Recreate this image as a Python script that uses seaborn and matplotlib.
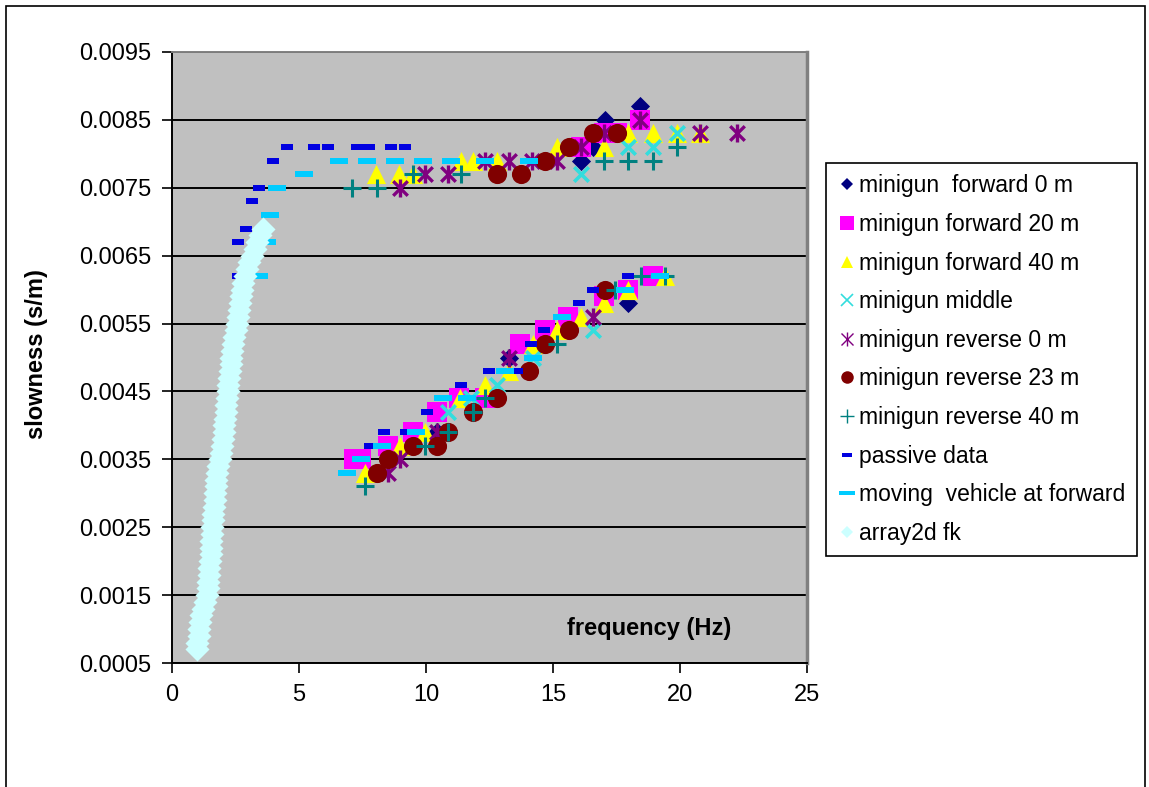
import numpy as np
import pandas as pd
import matplotlib
matplotlib.use("Agg")
import matplotlib.pyplot as plt
import seaborn as sns
from matplotlib.lines import Line2D
from matplotlib.legend_handler import HandlerTuple
from matplotlib.patches import Rectangle

# ---------------- data ----------------
fwd0_x = [16.09, 16.59, 17.05, 18.43, 17.97, 13.27, 10.42]
fwd0_y = [0.0079, 0.0081, 0.0085, 0.0087, 0.0058, 0.0050, 0.0039]

fwd20_x = [18.43, 16.09, 17.0, 17.5, 7.15, 7.45, 8.52, 9.5, 10.42, 11.3, 12.32, 13.7, 14.69, 15.6, 17.02, 17.97, 18.95]
fwd20_y = [0.0085, 0.0081, 0.0083, 0.0083, 0.0035, 0.0035, 0.0037, 0.0039, 0.0042, 0.0044, 0.0044, 0.0052, 0.0054, 0.0056, 0.0059, 0.0060, 0.0062]

fwd40_x = [8.03, 8.95, 9.47, 11.37, 11.84, 12.78, 15.15, 17.0, 17.97, 18.95, 19.87, 20.79,
           7.6, 8.98, 9.96, 11.34, 12.32, 13.27, 14.2, 15.15, 16.1, 17.02, 17.97, 19.4]
fwd40_y = [0.0077, 0.0077, 0.0077, 0.0079, 0.0079, 0.0079, 0.0081, 0.0081, 0.0083, 0.0083, 0.0083, 0.0083,
           0.0033, 0.0037, 0.0039, 0.0044, 0.0046, 0.0048, 0.0052, 0.0054, 0.0056, 0.0058, 0.0060, 0.0062]

mid_x = [16.09, 17.97, 18.95, 19.87, 10.88, 11.77, 12.78, 14.23, 16.59]
mid_y = [0.0077, 0.0081, 0.0081, 0.0083, 0.0042, 0.0044, 0.0046, 0.0050, 0.0054]

rev0_x = [8.98, 9.96, 10.88, 12.32, 13.28, 14.16, 15.15, 16.09, 17.0, 18.43, 20.79, 22.23,
          8.52, 8.98, 10.42, 13.27, 16.59]
rev0_y = [0.0075, 0.0077, 0.0077, 0.0079, 0.0079, 0.0079, 0.0079, 0.0081, 0.0083, 0.0085, 0.0083, 0.0083,
          0.0033, 0.0035, 0.0039, 0.0050, 0.0056]

rev23_x = [12.78, 13.73, 14.69, 15.64, 16.59, 17.51,
           8.06, 8.52, 9.47, 10.42, 10.88, 11.84, 12.78, 14.07, 14.69, 15.64, 17.05]
rev23_y = [0.0077, 0.0077, 0.0079, 0.0081, 0.0083, 0.0083,
           0.0033, 0.0035, 0.0037, 0.0037, 0.0039, 0.0042, 0.0044, 0.0048, 0.0052, 0.0054, 0.0060]

rev40_x = [7.07, 8.06, 9.47, 11.37, 17.0, 17.97, 18.95, 19.87,
           7.6, 9.96, 10.88, 11.84, 12.32, 15.15, 17.44, 18.45, 19.4]
rev40_y = [0.0075, 0.0075, 0.0077, 0.0077, 0.0079, 0.0079, 0.0079, 0.0081,
           0.0031, 0.0037, 0.0039, 0.0042, 0.0044, 0.0052, 0.0060, 0.0062, 0.0062]

passive_x = [4.52, 5.6, 6.14, 7.28, 7.76, 8.62, 9.17, 3.96, 3.41, 3.14, 2.91, 2.61, 2.61,
             7.8, 8.36, 9.2, 10.03, 11.37, 12.49, 13.57, 14.12, 14.66, 16.04, 16.59, 17.94]
passive_y = [0.0081, 0.0081, 0.0081, 0.0081, 0.0081, 0.0081, 0.0081, 0.0079, 0.0075, 0.0073, 0.0069, 0.0067, 0.0062,
             0.0037, 0.0039, 0.0039, 0.0042, 0.0046, 0.0048, 0.0048, 0.0052, 0.0054, 0.0058, 0.0060, 0.0062]

moving_x = [6.59, 7.66, 8.79, 9.9, 10.97, 12.32, 14.07, 5.2, 4.15, 3.86, 3.75, 3.44,
            6.88, 7.43, 8.26, 9.6, 10.68, 11.6, 13.11, 14.23, 15.34, 17.83, 19.2]
moving_y = [0.0079, 0.0079, 0.0079, 0.0079, 0.0079, 0.0079, 0.0079, 0.0077, 0.0075, 0.0071, 0.0067, 0.0062,
            0.0033, 0.0035, 0.0037, 0.0039, 0.0044, 0.0044, 0.0048, 0.0050, 0.0056, 0.0060, 0.0062]

fk_x = [0.97, 1.00, 1.05, 1.08, 1.12, 1.16, 1.22, 1.30, 1.37, 1.40, 1.42, 1.44, 1.47, 1.50, 1.52, 1.53,
        1.55, 1.57, 1.59, 1.61, 1.63, 1.65, 1.68, 1.70, 1.72, 1.75, 1.78, 1.82, 1.89, 1.93, 1.97, 2.00,
        2.03, 2.06, 2.09, 2.12, 2.14, 2.16, 2.19, 2.22, 2.25, 2.28, 2.31, 2.34, 2.37, 2.41, 2.45, 2.50,
        2.57, 2.61, 2.64, 2.68, 2.71, 2.74, 2.80, 2.88, 2.96, 3.05, 3.14, 3.25, 3.36, 3.48, 3.60]
fk_y = [0.00070, 0.00080, 0.00090, 0.00100, 0.00110, 0.00120, 0.00130, 0.00140, 0.00150, 0.00160,
        0.00170, 0.00180, 0.00190, 0.00200, 0.00210, 0.00220, 0.00230, 0.00240, 0.00250, 0.00260,
        0.00270, 0.00280, 0.00290, 0.00300, 0.00310, 0.00320, 0.00330, 0.00340, 0.00350, 0.00360,
        0.00370, 0.00380, 0.00390, 0.00400, 0.00410, 0.00420, 0.00430, 0.00440, 0.00450, 0.00460,
        0.00470, 0.00480, 0.00490, 0.00500, 0.00510, 0.00520, 0.00530, 0.00540, 0.00550, 0.00560,
        0.00570, 0.00580, 0.00590, 0.00600, 0.00610, 0.00620, 0.00630, 0.00640, 0.00650, 0.00660,
        0.00670, 0.00680, 0.00690]

series_labels = ["minigun  forward 0 m", "minigun forward 20 m", "minigun forward 40 m",
                 "minigun middle", "minigun reverse 0 m", "minigun reverse 23 m",
                 "minigun reverse 40 m", "passive data", "moving  vehicle at forward", "array2d fk"]

x_ticks = [0, 5, 10, 15, 20, 25]
y_ticks = [0.0005, 0.0015, 0.0025, 0.0035, 0.0045, 0.0055, 0.0065, 0.0075, 0.0085, 0.0095]

# ---------------- styling ----------------
plt.rcParams["font.family"] = ["Liberation Sans", "DejaVu Sans"]
FONT = 17

C_FWD0 = "#000080"
C_FWD20 = "#FF00FF"
C_FWD40 = "#FFFF00"
C_MID = "#33DDDD"
C_REV0 = "#800080"
C_REV23 = "#800000"
C_REV40 = "#008080"
C_PASS = "#0000E0"
C_MOV = "#00CCFF"
C_FK = "#CCFFFF"

passive_marker = [(-1, -0.5), (1, -0.5), (1, 0.5), (-1, 0.5)]
moving_marker = [(-1, -0.32), (1, -0.32), (1, 0.32), (-1, 0.32)]

fig = plt.figure(figsize=(11.49, 7.87), dpi=100)
ax = fig.add_axes([172 / 1149, 1 - 663 / 787, 635 / 1149, 611 / 787])
ax.set_facecolor("#C0C0C0")


def df(x, y):
    return pd.DataFrame({"x": x, "y": y})


kw = dict(ax=ax, legend=False)
sns.scatterplot(data=df(fwd0_x, fwd0_y), x="x", y="y", marker="D", s=95, color=C_FWD0, linewidth=0, zorder=3, **kw)
sns.scatterplot(data=df(fwd20_x, fwd20_y), x="x", y="y", marker="s", s=200, color=C_FWD20, linewidth=0, zorder=4, **kw)
sns.scatterplot(data=df(fwd40_x, fwd40_y), x="x", y="y", marker="^", s=190, color=C_FWD40, linewidth=0, zorder=5, **kw)
sns.scatterplot(data=df(mid_x, mid_y), x="x", y="y", marker="x", s=110, color=C_MID, linewidth=2.6, zorder=6, **kw)
sns.scatterplot(data=df(rev0_x, rev0_y), x="x", y="y", marker="x", s=110, color=C_REV0, linewidth=2.4, zorder=7, **kw)
sns.scatterplot(data=df(rev0_x, rev0_y), x="x", y="y", marker="|", s=150, color=C_REV0, linewidth=2.4, zorder=7, **kw)
sns.scatterplot(data=df(rev23_x, rev23_y), x="x", y="y", marker="o", s=190, color=C_REV23, linewidth=0, zorder=8, **kw)
sns.scatterplot(data=df(rev40_x, rev40_y), x="x", y="y", marker="+", s=170, color=C_REV40, linewidth=2.2, zorder=9, **kw)
sns.scatterplot(data=df(passive_x, passive_y), x="x", y="y", marker=passive_marker, s=75, color=C_PASS, linewidth=0, zorder=10, **kw)
sns.scatterplot(data=df(moving_x, moving_y), x="x", y="y", marker=moving_marker, s=150, color=C_MOV, linewidth=0, zorder=11, **kw)
sns.scatterplot(data=df(fk_x, fk_y), x="x", y="y", marker="D", s=150, color=C_FK, linewidth=0, zorder=12, **kw)

ax.set_xlim(0, 25)
ax.set_ylim(0.0005, 0.0095)
ax.set_xticks(x_ticks)
ax.set_yticks(y_ticks)
ax.set_xticklabels([str(t) for t in x_ticks], fontsize=FONT)
ax.set_yticklabels([f"{t:.4f}" for t in y_ticks], fontsize=FONT)
ax.tick_params(axis="both", direction="out", length=7, width=1.2, color="black", pad=8)
ax.grid(True, axis="y", color="black", linewidth=1.4, zorder=1)
ax.set_axisbelow(True)
for side in ["left", "bottom"]:
    ax.spines[side].set_color("black")
    ax.spines[side].set_linewidth(1.4)
ax.spines["top"].set_color("#808080")
ax.spines["top"].set_linewidth(1.4)
ax.spines["right"].set_color("#808080")
ax.spines["right"].set_linewidth(2.5)

ax.set_xlabel("")
ax.set_ylabel("slowness (s/m)", fontsize=FONT, fontweight="bold")
ax.yaxis.set_label_coords((48 - 172) / 635, 0.505)
ax.text(18.8, 0.00101, "frequency (Hz)", fontsize=FONT, fontweight="bold", ha="center", va="center", zorder=20)

# legend
h = [
    Line2D([], [], ls="none", marker="D", ms=6, color=C_FWD0, mew=0),
    Line2D([], [], ls="none", marker="s", ms=10, color=C_FWD20, mew=0),
    Line2D([], [], ls="none", marker="^", ms=9, color=C_FWD40, mew=0),
    Line2D([], [], ls="none", marker="x", ms=8, color=C_MID, mew=1.2),
    (Line2D([], [], ls="none", marker="x", ms=8, color=C_REV0, mew=1.0),
     Line2D([], [], ls="none", marker="|", ms=10, color=C_REV0, mew=1.0)),
    Line2D([], [], ls="none", marker="o", ms=9, color=C_REV23, mew=0),
    Line2D([], [], ls="none", marker="+", ms=10, color=C_REV40, mew=1.0),
    Line2D([], [], ls="none", marker=passive_marker, ms=7, color=C_PASS, mew=0),
    Line2D([], [], ls="none", marker=moving_marker, ms=11, color=C_MOV, mew=0),
    Line2D([], [], ls="none", marker="D", ms=6, color=C_FK, mew=0),
]
leg = fig.legend(h, series_labels, loc="upper left", bbox_to_anchor=(826 / 1149, 1 - 163 / 787),
                 fontsize=16.5, frameon=True, fancybox=False, framealpha=1, edgecolor="black",
                 handlelength=0.8, handletextpad=0.15, labelspacing=0.68, borderpad=0.5,
                 borderaxespad=0, handler_map={tuple: HandlerTuple(ndivide=1, pad=0)})
leg.get_frame().set_linewidth(1.2)

# outer figure frame
fig.patches.append(Rectangle((6 / 1149, -0.05), (1145 - 6) / 1149, 1.05 - 6 / 787,
                             transform=fig.transFigure, fill=False, edgecolor="black", linewidth=1.2))

fig.savefig("out.png", dpi=100, facecolor="white")
